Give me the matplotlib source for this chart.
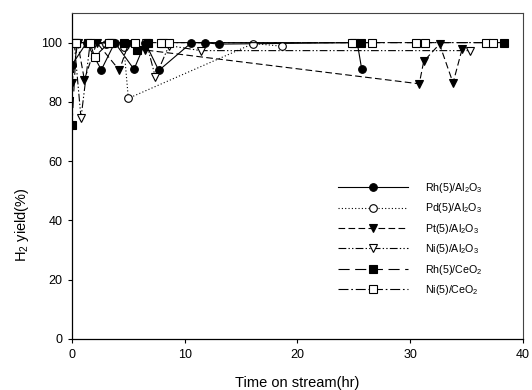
import matplotlib
matplotlib.use('Agg')
import matplotlib.pyplot as plt

########################################################################
# data (time on stream in hr, H2 yield in %)

rh_al_time = [0.0, 1.3, 2.6, 3.8, 5.5, 6.5, 7.7, 10.6, 11.8, 13.0, 25.3, 25.7]
rh_al_yield = [92.5, 100, 90.8, 100, 91.0, 100, 90.6, 100, 100, 99.5, 100, 91.0]

pd_al_time = [0.2, 1.5, 3.0, 4.6, 5.0, 16.1, 18.6]
pd_al_yield = [100, 100, 99.5, 98.5, 81.2, 99.7, 98.8]

pt_al_time = [0.0, 0.5, 1.1, 2.2, 4.2, 5.0, 6.5, 30.8, 31.2, 32.6, 33.8, 34.6]
pt_al_yield = [86.4, 100, 87.5, 100, 90.7, 99.5, 97.5, 86.1, 93.7, 99.5, 86.4, 97.8]

ni_al_time = [0.2, 0.8, 1.6, 3.5, 6.6, 7.4, 8.6, 11.4, 35.3]
ni_al_yield = [100, 74.6, 99.5, 100, 100, 88.3, 99.0, 97.3, 97.3]

rh_ce_time = [0.0, 0.4, 1.4, 3.5, 4.6, 5.8, 6.7, 8.1, 25.0, 25.6, 38.3]
rh_ce_yield = [72.3, 100, 100, 100, 100, 97.6, 100, 100, 100, 100, 100]

ni_ce_time = [0.4, 1.6, 2.0, 3.3, 5.6, 7.9, 8.6, 24.8, 26.6, 30.5, 31.3, 36.7, 37.3]
ni_ce_yield = [100, 100, 95.2, 100, 100, 100, 100, 100, 100, 100, 100, 100, 100]

x_ticks = [0, 10, 20, 30, 40]
y_ticks = [0, 20, 40, 60, 80, 100]

########################################################################

plt.rcParams['font.family'] = ['Liberation Sans', 'DejaVu Sans']
plt.rcParams['mathtext.fontset'] = 'custom'
plt.rcParams['mathtext.rm'] = 'Liberation Sans'
plt.rcParams['mathtext.it'] = 'Liberation Sans:italic'
plt.rcParams['mathtext.default'] = 'regular'

fig = plt.figure(figsize=(5.32, 3.9), dpi=100)
ax = fig.add_axes([0.1353, 0.1308, 0.8477, 0.8359])

ms = 5.5
lw = 0.8

series = [
    (rh_al_time, rh_al_yield, 'Rh(5)/Al$_2$O$_3$', '-', 'o', 'black'),
    (pd_al_time, pd_al_yield, 'Pd(5)/Al$_2$O$_3$', (0, (1, 2)), 'o', 'white'),
    (pt_al_time, pt_al_yield, 'Pt(5)/Al$_2$O$_3$', (0, (6, 3)), 'v', 'black'),
    (ni_al_time, ni_al_yield, 'Ni(5)/Al$_2$O$_3$', (0, (7, 2, 1.2, 2, 1.2, 2)), 'v', 'white'),
    (rh_ce_time, rh_ce_yield, 'Rh(5)/CeO$_2$', (0, (10, 5)), 's', 'black'),
    (ni_ce_time, ni_ce_yield, 'Ni(5)/CeO$_2$', (0, (9, 2.5, 1.5, 2.5)), 's', 'white'),
]

for t, y, label, ls, mk, face in series:
    ax.plot(t, y, linestyle=ls, color='black', linewidth=lw,
            marker=mk, markersize=ms, markerfacecolor=face,
            markeredgecolor='black', markeredgewidth=0.8, label=label)

ax.set_xlim(0, 40)
ax.set_ylim(0, 110)
ax.set_xticks(x_ticks)
ax.set_yticks(y_ticks)
ax.tick_params(direction='out', length=3, width=0.8, labelsize=9, pad=4)

for side in ['left', 'bottom']:
    ax.spines[side].set_linewidth(0.9)
for side in ['top', 'right']:
    ax.spines[side].set_linewidth(0.8)
    ax.spines[side].set_color('#444444')

ax.set_xlabel('Time on stream(hr)', fontsize=10.5)
ax.set_ylabel('H$_2$ yield(%)', fontsize=10.5)
ax.xaxis.set_label_coords(0.5, -0.135)
ax.xaxis.label.set_va('center')
ax.yaxis.set_label_coords(-0.111, 0.35)
ax.yaxis.label.set_va('center')

ax.legend(loc='upper left', bbox_to_anchor=(0.59, 0.485), frameon=False,
          fontsize=7.7, handlelength=6.5, handletextpad=1.6,
          labelspacing=0.6, borderaxespad=0, borderpad=0, numpoints=1)

fig.savefig('out.png', dpi=100)
